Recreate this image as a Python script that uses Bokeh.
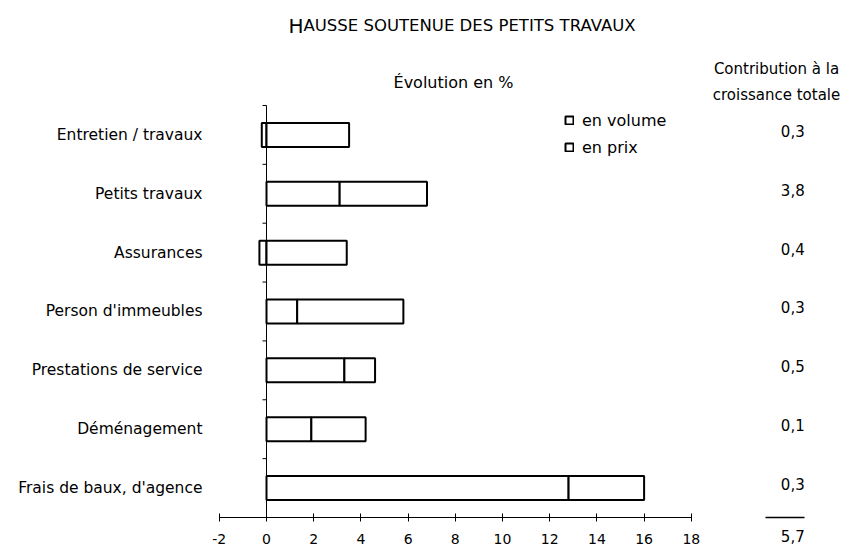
from bokeh.plotting import figure
from bokeh.layouts import row
from bokeh.models import (Range1d, FixedTicker, Legend, LegendItem, Label,
                          ColumnDataSource)
from bokeh.core.properties import value
from bokeh.embed import file_html
from bokeh.resources import INLINE

# ---------------- data ----------------
categories = ["Entretien / travaux", "Petits travaux", "Assurances",
              "Person d'immeubles", "Prestations de service",
              "Déménagement", "Frais de baux, d'agence"]
volume = [-0.2, 3.1, -0.3, 1.3, 3.3, 1.9, 12.8]       # Évolution en volume (%)
prix = [3.5, 3.7, 3.4, 4.5, 1.3, 2.3, 3.2]            # Évolution en prix (%)
contribution = ["0,3", "3,8", "0,4", "0,3", "0,5", "0,1", "0,3"]
total_contribution = "5,7"
x_ticks = [-2, 0, 2, 4, 6, 8, 10, 12, 14, 16, 18]

title_first = "H"
title_rest = "AUSSE SOUTENUE DES PETITS TRAVAUX"
subtitle = "Évolution en %"
contrib_header = ["Contribution à la", "croissance totale"]
legend_labels = ["en volume", "en prix"]

# ---------------- layout ----------------
W, H = 851, 550
SPLIT = 700          # pixel x where the contribution panel starts
BL, BB = 216, 33
PX_X = 23.6          # pixels per % unit
PX_Y = 58.86         # pixels per category row
ZERO_X = 266         # pixel x of value 0
AXIS_Y = 517         # pixel y of the value axis
FONT = "DejaVu Sans"


def px_x(x):
    return (x - ZERO_X) / PX_X


def px_y(y):
    return -0.5 + (AXIS_Y - y) / PX_Y


n = len(categories)
ypos = [n - 1 - i for i in range(n)]

vol_left = [min(0, v) for v in volume]
vol_right = [max(0, v) for v in volume]
prix_left = [max(0, v) for v in volume]
prix_right = [max(0, v) + p for v, p in zip(volume, prix)]

src = ColumnDataSource(dict(y=ypos, vl=vol_left, vr=vol_right,
                            pl=prix_left, pr=prix_right, c=contribution))

y_top = px_y(0)

# ================= main chart =================
p = figure(width=SPLIT, height=H, output_backend="svg", toolbar_location=None,
           x_range=Range1d(px_x(BL), px_x(SPLIT)),
           y_range=Range1d(-0.5, y_top),
           min_border_left=BL, min_border_right=0, min_border_top=0,
           min_border_bottom=BB)
p.outline_line_color = None
p.grid.visible = False

bar_h = 24 / PX_Y
r_vol = p.hbar(y="y", left="vl", right="vr", height=bar_h, source=src,
               fill_color="white", line_color="black", line_width=2)
r_prix = p.hbar(y="y", left="pl", right="pr", height=bar_h, source=src,
                fill_color="white", line_color="black", line_width=2)

# zero line with small ticks between categories
p.segment(x0=[0], y0=[-0.5], x1=[0], y1=[n - 0.5], line_color="black",
          line_width=1)
tick_y = [k + 0.5 for k in range(n)]
p.segment(x0=[-4 / PX_X] * n, y0=tick_y, x1=[0] * n, y1=tick_y,
          line_color="black", line_width=1)

# x axis
xa = p.xaxis[0]
xa.bounds = (x_ticks[0], x_ticks[-1])
xa.ticker = FixedTicker(ticks=x_ticks)
xa.major_label_overrides = {t: str(t) for t in x_ticks}
xa.major_tick_in = 4
xa.major_tick_out = 4
xa.minor_tick_line_color = None
xa.axis_line_color = "black"
xa.major_tick_line_color = "black"
xa.major_label_text_font = FONT
xa.major_label_text_font_size = "14px"
xa.major_label_text_color = "black"
xa.major_label_standoff = 12

# y axis (category labels)
ya = p.yaxis[0]
ya.ticker = FixedTicker(ticks=ypos)
ya.major_label_overrides = {yy: c for yy, c in zip(ypos, categories)}
ya.axis_line_color = None
ya.major_tick_line_color = None
ya.minor_tick_line_color = None
ya.major_label_text_font = FONT
ya.major_label_text_font_size = "15.5px"
ya.major_label_text_color = "black"
ya.major_label_standoff = 8


def lab(fig, x, y, t, size, align="center", baseline="middle"):
    fig.add_layout(Label(x=x, y=y, text=t, text_align=align,
                         text_baseline=baseline, text_font=FONT,
                         text_font_size=size, text_color="black"))


split_x = px_x(303)
lab(p, split_x, px_y(25), title_first, "20px", align="right",
    baseline="alphabetic")
lab(p, split_x, px_y(25), title_rest, "16.5px", align="left",
    baseline="alphabetic")
lab(p, px_x(453), px_y(82), subtitle, "16px")

legend = Legend(items=[LegendItem(label=legend_labels[0], renderers=[r_vol]),
                       LegendItem(label=legend_labels[1], renderers=[r_prix])],
                location=(564 - BL, AXIS_Y - 157),
                glyph_width=10, glyph_height=10, label_height=20,
                label_standoff=8, spacing=7, padding=0, margin=0,
                border_line_color=None, background_fill_alpha=0,
                label_text_font=FONT, label_text_font_size="16px",
                label_text_color="black")
p.add_layout(legend, "center")

# ================= contribution column =================
COL_X = 22.3   # column position on the % scale (pixel ~792)
q = figure(width=W - SPLIT, height=H, output_backend="svg",
           toolbar_location=None, y_axis_location=None,
           x_range=Range1d(px_x(SPLIT), px_x(W)),
           y_range=Range1d(-0.5, y_top),
           min_border_left=0, min_border_right=0,
           min_border_top=0, min_border_bottom=BB)
q.outline_line_color = None
q.grid.visible = False

# the total sits under a short summation rule, drawn as this panel's axis
qa = q.xaxis[0]
qa.bounds = (px_x(765), px_x(804))
qa.ticker = FixedTicker(ticks=[COL_X])
qa.major_label_overrides = {COL_X: total_contribution}
qa.major_tick_in = 0
qa.major_tick_out = 0
qa.minor_tick_line_color = None
qa.axis_line_color = "black"
qa.axis_line_width = 1.5
qa.major_label_text_font = FONT
qa.major_label_text_font_size = "15px"
qa.major_label_text_color = "black"
qa.major_label_standoff = 12

q.text(x=COL_X, y="y", text="c", source=src, text_align="center",
       text_baseline="middle", y_offset=-4, text_font=value(FONT),
       text_font_size="15px", text_color="black")
lab(q, px_x(776), px_y(68), contrib_header[0], "15px")
lab(q, px_x(776), px_y(94), contrib_header[1], "15px")

layout = row(p, q)
open("out.html", "w").write(file_html(layout, INLINE))
